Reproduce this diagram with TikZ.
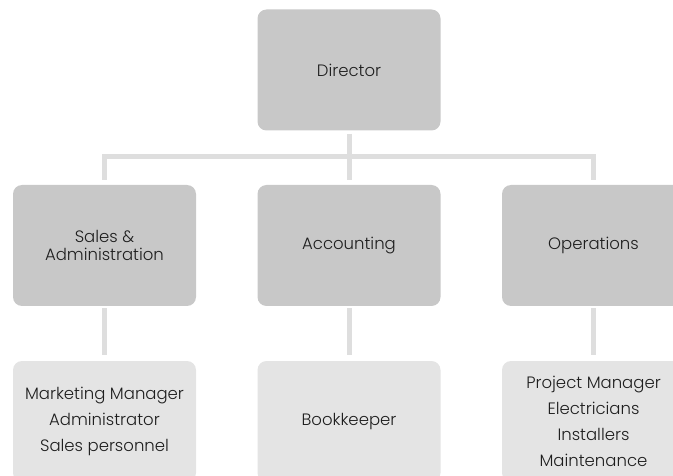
\documentclass[tikz,border=0pt]{standalone}
\usepackage{fontspec}
\setmainfont{Poppins}[UprightFont=* Light]
\definecolor{topfill}{HTML}{C8C8C8}
\definecolor{lowfill}{HTML}{E4E4E4}
\definecolor{connc}{HTML}{DEDEDE}
\definecolor{txt}{HTML}{1E1E1E}
\begin{document}
\begin{tikzpicture}[x=1pt,y=-1pt,
  box/.style={rounded corners=9pt, minimum width=183pt, minimum height=121pt,
    inner sep=0pt, align=center, text=txt},
  upper/.style={box, fill=topfill, font=\fontsize{16.5}{18.5}\selectfont},
  lower/.style={box, fill=lowfill, font=\fontsize{16.5}{26}\selectfont},
  conn/.style={draw=connc, line width=5pt}]
\useasboundingbox (0,0) rectangle (673,476);
\clip (0,0) rectangle (673,476);
\node[upper] (dir) at (349,70) {Director};
\node[upper] (sales) at (104.5,245.5) {Sales \&\\Administration};
\node[upper] (acc) at (349,245.5) {Accounting};
\node[upper] (ops) at (593.5,245.5) {Operations};
\node[lower] (mkt) at (104.5,421.5) {Marketing Manager\\Administrator\\Sales personnel};
\node[lower] (book) at (349,421.5) {Bookkeeper};
\node[lower] (proj) at (593.5,421.5) {Project Manager\\Electricians\\Installers\\Maintenance};
\coordinate (bar) at (349,157);
\draw[conn] ([yshift=-3pt]dir.south) -- ([yshift=5pt]acc.north);
\draw[conn] ([yshift=5pt]sales.north) |- (bar) -| ([yshift=5pt]ops.north);
\draw[conn] ([yshift=-2pt]sales.south) -- ([yshift=6pt]mkt.north);
\draw[conn] ([yshift=-2pt]acc.south) -- ([yshift=6pt]book.north);
\draw[conn] ([yshift=-2pt]ops.south) -- ([yshift=6pt]proj.north);
\end{tikzpicture}
\end{document}
